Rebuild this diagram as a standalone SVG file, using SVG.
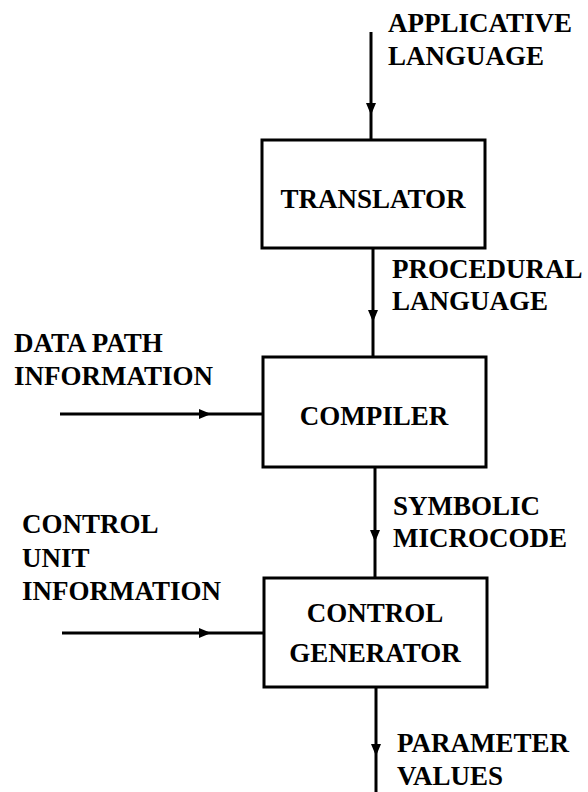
<svg xmlns="http://www.w3.org/2000/svg" width="588" height="792" viewBox="0 0 588 792">
<defs>
<style>
.box{fill:#fff;stroke:#000;stroke-width:3}
.ln{fill:none;stroke:#000;stroke-width:3}
.t{font-family:"Liberation Serif","Times New Roman","DejaVu Serif",serif;font-weight:bold;font-size:27px;fill:#000}
.c{text-anchor:middle}
</style>
<marker id="ah" markerWidth="12" markerHeight="12" viewBox="0 0 12 12" refX="12" refY="6" orient="auto" markerUnits="userSpaceOnUse">
<path d="M0,1 L12,6 L0,11 Z" fill="#000"/>
</marker>
</defs>
<rect width="588" height="792" fill="#fff"/>
<g id="connectors">
<path class="ln" d="M371,32 L371,115 L371,140" marker-mid="url(#ah)"/>
<path class="ln" d="M373,248 L373,322 L373,357" marker-mid="url(#ah)"/>
<path class="ln" d="M60,414 L211,414 L263,414" marker-mid="url(#ah)"/>
<path class="ln" d="M375,467 L375,542 L375,578" marker-mid="url(#ah)"/>
<path class="ln" d="M62,633 L211,633 L264,633" marker-mid="url(#ah)"/>
<path class="ln" d="M376,687 L376,756 L376,792" marker-mid="url(#ah)"/>
</g>
<g id="translator">
<rect class="box" x="262" y="140" width="223" height="108"/>
<text class="t c" x="373" y="208">TRANSLATOR</text>
</g>
<g id="compiler">
<rect class="box" x="263" y="357" width="223" height="110"/>
<text class="t c" x="374" y="425">COMPILER</text>
</g>
<g id="control-generator">
<rect class="box" x="264" y="578" width="223" height="109"/>
<text class="t c" x="375" y="622">CONTROL</text>
<text class="t c" x="375" y="662">GENERATOR</text>
</g>
<g id="labels">
<text class="t" x="388" y="32">APPLICATIVE</text>
<text class="t" x="388" y="65">LANGUAGE</text>
<text class="t" x="392" y="278">PROCEDURAL</text>
<text class="t" x="392" y="310">LANGUAGE</text>
<text class="t" x="14" y="352">DATA PATH</text>
<text class="t" x="14" y="385">INFORMATION</text>
<text class="t" x="393" y="515">SYMBOLIC</text>
<text class="t" x="393" y="547">MICROCODE</text>
<text class="t" x="22" y="533">CONTROL</text>
<text class="t" x="22" y="567">UNIT</text>
<text class="t" x="22" y="600">INFORMATION</text>
<text class="t" x="397" y="752">PARAMETER</text>
<text class="t" x="397" y="785">VALUES</text>
</g>
</svg>
